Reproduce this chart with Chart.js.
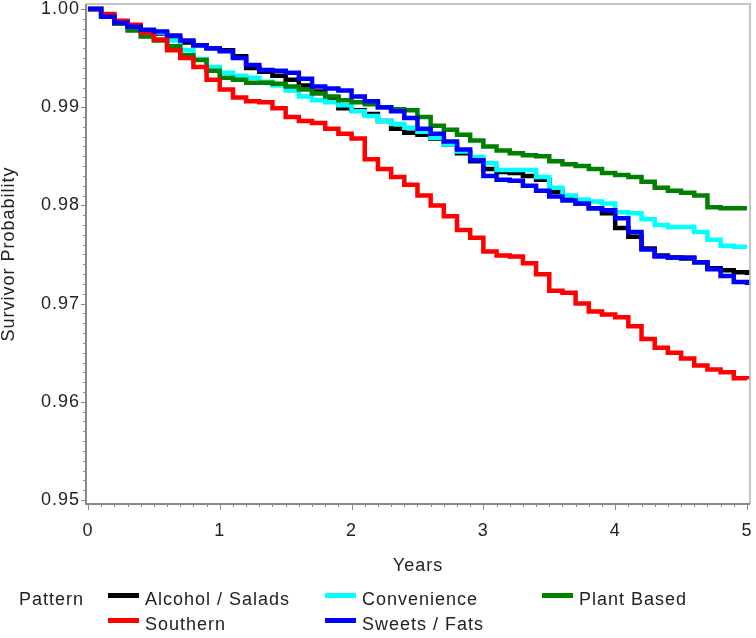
<!DOCTYPE html>
<html>
<head>
<meta charset="utf-8">
<script src="https://cdn.jsdelivr.net/npm/chart.js@4.4.1/dist/chart.umd.min.js"></script>
<style>
  html, body { margin: 0; padding: 0; background: #fff; }
  #wrap { position: relative; width: 756px; height: 638px; }
  #legend div { position: absolute; font-family: 'Liberation Sans', Arial, sans-serif; font-size: 18px; line-height: 18px; letter-spacing: 1px; color: #222; white-space: nowrap; }
  #legend .sw { height: 5px; width: 31px; }
</style>
</head>
<body>
<div id="wrap">
  <canvas id="myChart" width="756" height="638"></canvas>
  <div id="legend"></div>
</div>
<script>
const years = [0,0.1,0.2,0.3,0.4,0.5,0.6,0.7,0.8,0.9,1.0,1.1,1.2,1.3,1.4,1.5,1.6,1.7,1.8,1.9,2.0,
  2.1,2.2,2.3,2.4,2.5,2.6,2.7,2.8,2.9,3.0,3.1,3.2,3.3,3.4,3.5,3.6,3.7,3.8,3.9,4.0,
  4.1,4.2,4.3,4.4,4.5,4.6,4.7,4.8,4.9,5.0];

const alcoholSalads = [1.0000,0.9993,0.9987,0.9982,0.9978,0.9975,0.9970,0.9966,0.9963,0.9960,0.9958,
  0.9952,0.9940,0.9936,0.9932,0.9928,0.9922,0.9916,0.9910,0.9899,0.9897,
  0.9893,0.9886,0.9878,0.9874,0.9872,0.9868,0.9862,0.9853,0.9845,0.9837,
  0.9834,0.9833,0.9830,0.9826,0.9814,0.9808,0.9802,0.9797,0.9792,0.9777,
  0.9768,0.9756,0.9749,0.9747,0.9746,0.9742,0.9736,0.9734,0.9732,0.9729];

const convenience = [1.0000,0.9993,0.9987,0.9982,0.9978,0.9976,0.9968,0.9958,0.9949,0.9941,0.9935,
  0.9932,0.9930,0.9926,0.9922,0.9917,0.9911,0.9907,0.9905,0.9902,0.9896,
  0.9891,0.9886,0.9883,0.9879,0.9875,0.9869,0.9862,0.9855,0.9849,0.9843,
  0.9836,0.9836,0.9836,0.9829,0.9818,0.9810,0.9806,0.9804,0.9802,0.9793,
  0.9792,0.9786,0.9780,0.9778,0.9778,0.9773,0.9765,0.9759,0.9758,0.9758];

const plantBased = [1.0000,0.9992,0.9985,0.9978,0.9972,0.9968,0.9962,0.9953,0.9948,0.9937,0.9930,
  0.9928,0.9925,0.9925,0.9924,0.9921,0.9918,0.9914,0.9911,0.9907,0.9905,
  0.9903,0.9900,0.9898,0.9897,0.9890,0.9881,0.9877,0.9872,0.9866,0.9860,
  0.9856,0.9853,0.9851,0.9850,0.9845,0.9842,0.9840,0.9837,0.9833,0.9831,
  0.9829,0.9824,0.9818,0.9815,0.9813,0.9810,0.9798,0.9797,0.9797,0.9797];

const southern = [1.0000,0.9995,0.9988,0.9984,0.9976,0.9969,0.9958,0.9950,0.9941,0.9928,0.9918,
  0.9910,0.9906,0.9905,0.9899,0.9890,0.9886,0.9884,0.9878,0.9873,0.9868,
  0.9847,0.9837,0.9829,0.9821,0.9810,0.9800,0.9789,0.9775,0.9767,0.9753,
  0.9749,0.9748,0.9741,0.9730,0.9713,0.9711,0.9700,0.9692,0.9689,0.9686,
  0.9677,0.9664,0.9655,0.9650,0.9644,0.9637,0.9633,0.9630,0.9624,0.9623];

const sweetsFats = [1.0000,0.9992,0.9986,0.9982,0.9979,0.9977,0.9973,0.9968,0.9963,0.9960,0.9957,
  0.9950,0.9943,0.9938,0.9937,0.9935,0.9929,0.9921,0.9919,0.9917,0.9911,
  0.9906,0.9900,0.9896,0.9889,0.9878,0.9873,0.9865,0.9857,0.9846,0.9830,
  0.9826,0.9825,0.9820,0.9815,0.9809,0.9805,0.9802,0.9797,0.9795,0.9787,
  0.9773,0.9755,0.9748,0.9747,0.9747,0.9742,0.9735,0.9728,0.9722,0.9719];

const seriesNames = ["Alcohol / Salads", "Convenience", "Plant Based", "Southern", "Sweets / Fats"];
const seriesValues = [alcoholSalads, convenience, plantBased, southern, sweetsFats];
const seriesColors = ["#000000", "#00ffff", "#007f00", "#ff0000", "#0000ff"];
const yTickValues = [0.95, 0.96, 0.97, 0.98, 0.99, 1.00];
const xTickValues = [0, 1, 2, 3, 4, 5];

const fontFamily = "'Liberation Sans', Arial, sans-serif";
const textColor = "#222";

// legend (3 columns, 2 rows) built from the series names
const legendDiv = document.getElementById("legend");
const colLeft = [108, 325, 542];
const rowTop = [590, 615];
let html = '<div style="left:19px;top:590px">Pattern</div>';
seriesNames.forEach((name, i) => {
  const col = i % 3, row = Math.floor(i / 3);
  html += `<div class="sw" style="left:${colLeft[col]}px;top:${rowTop[row] + 3}px;background:${seriesColors[i]}"></div>`;
  html += `<div style="left:${colLeft[col] + 37}px;top:${rowTop[row]}px">${name}</div>`;
});
legendDiv.innerHTML = html;

const framePlugin = {
  id: "frame",
  beforeUpdate(chart) { chart.ctx.letterSpacing = "1px"; },
  beforeDraw(chart) { chart.ctx.letterSpacing = "1px"; },
  beforeDatasetsDraw(chart) {
    const {ctx, chartArea: a} = chart;
    ctx.save();
    ctx.strokeStyle = "#c4c4c4";
    ctx.lineWidth = 2;
    ctx.beginPath();
    ctx.moveTo(a.left, a.top);
    ctx.lineTo(a.right, a.top);
    ctx.lineTo(a.right, a.bottom);
    ctx.stroke();
    ctx.restore();
  },
  afterDraw(chart) {
    const {ctx, chartArea: a, scales} = chart;
    ctx.save();
    ctx.strokeStyle = "#8a8a8a";
    ctx.lineWidth = 2;
    ctx.beginPath();
    ctx.moveTo(a.left, a.top);
    ctx.lineTo(a.left, a.bottom);
    ctx.lineTo(a.right, a.bottom);
    ctx.stroke();
    ctx.lineWidth = 1;
    ctx.beginPath();
    for (let i = 0; i <= 50; i++) {
      const py = Math.round(scales.y.getPixelForValue(0.95 + i * 0.001)) + 0.5;
      ctx.moveTo(a.left - (i % 10 === 0 ? 5 : 3), py);
      ctx.lineTo(a.left, py);
      const px = Math.round(scales.x.getPixelForValue(i * 0.1)) + 0.5;
      ctx.moveTo(px, a.bottom);
      ctx.lineTo(px, a.bottom + (i % 10 === 0 ? 6 : 3));
    }
    ctx.stroke();
    ctx.restore();
  }
};

const datasets = seriesNames.map((name, i) => ({
  label: name,
  data: years.map((t, j) => ({x: t, y: seriesValues[i][j]})),
  borderColor: seriesColors[i],
  backgroundColor: seriesColors[i],
  borderWidth: 4.5,
  pointRadius: 0,
  stepped: true,
  fill: false
}));
// blue drawn on top, then red, green, cyan, black
const drawOrder = [4, 3, 2, 1, 0];

new Chart("myChart", {
  type: "line",
  data: { datasets: drawOrder.map(i => datasets[i]) },
  options: {
    responsive: false,
    animation: false,
    devicePixelRatio: 1,
    layout: { padding: { top: 4, right: 6, left: 0, bottom: 0 } },
    plugins: { legend: { display: false }, tooltip: { enabled: false } },
    scales: {
      x: {
        type: "linear",
        min: -0.015,
        max: 5.023,
        afterFit: s => { s.height = 134; s.paddingLeft = 0; s.paddingRight = 0; },
        afterBuildTicks: s => { s.ticks = xTickValues.map(v => ({value: v})); },
        grid: { display: false, drawTicks: false },
        border: { display: false },
        ticks: {
          padding: 16,
          color: textColor,
          maxRotation: 0,
          autoSkip: false,
          font: { family: fontFamily, size: 18 },
          callback: v => String(v)
        },
        title: {
          display: true,
          text: "Years",
          color: textColor,
          font: { family: fontFamily, size: 18 },
          padding: { top: 0, bottom: 61 }
        }
      },
      y: {
        min: 0.94959,
        max: 1.00051,
        afterFit: s => { s.width = 86; s.paddingTop = 0; s.paddingBottom = 0; },
        afterBuildTicks: s => { s.ticks = yTickValues.map(v => ({value: v})); },
        grid: { display: false, drawTicks: false },
        border: { display: false },
        ticks: {
          padding: 6,
          color: textColor,
          autoSkip: false,
          font: { family: fontFamily, size: 18 },
          callback: v => v.toFixed(2)
        },
        title: {
          display: true,
          text: "Survivor Probability",
          color: textColor,
          font: { family: fontFamily, size: 18, lineHeight: 1 },
          padding: 0
        }
      }
    }
  },
  plugins: [framePlugin]
});
</script>
</body>
</html>
